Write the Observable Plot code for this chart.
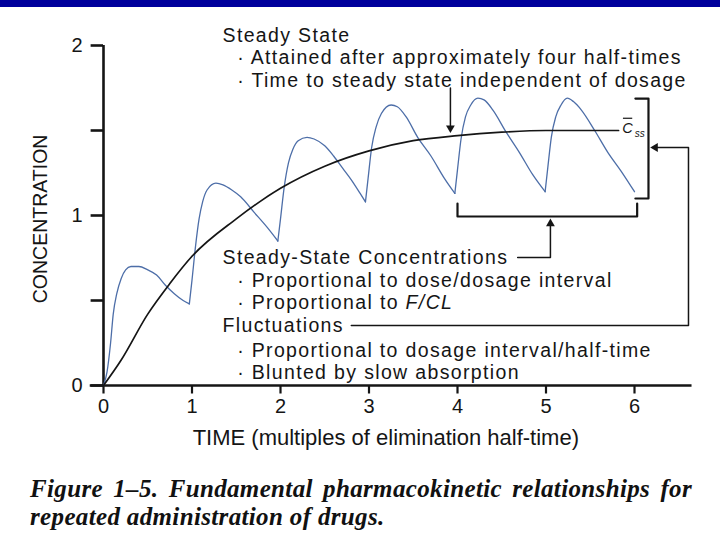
<!DOCTYPE html>
<html>
<head>
<meta charset="utf-8">
<script src="https://cdn.jsdelivr.net/npm/d3@7"></script>
<script src="https://cdn.jsdelivr.net/npm/@observablehq/plot@0.6"></script>
<style>
  html, body { margin: 0; padding: 0; background: #ffffff; width: 720px; height: 540px; overflow: hidden; }
  #bar { position: absolute; left: 0; top: 0; width: 720px; height: 7px; background: #00009c; }
  #chart { position: absolute; left: 0; top: 8px; }
  #caption { position: absolute; left: 30px; top: 475px; width: 662px;
    font-family: "Liberation Serif", "Times New Roman", serif; font-weight: bold; font-style: italic;
    font-size: 25px; line-height: 28px; letter-spacing: 0.35px; color: #111; }
  #caption .l1 { text-align: justify; text-align-last: justify; white-space: nowrap; }
</style>
</head>
<body>
<div id="bar"></div>
<div id="chart"></div>
<div id="caption">
  <div class="l1">Figure 1–5. Fundamental pharmacokinetic relationships for</div>
  <div>repeated administration of drugs.</div>
</div>
<script>
// ---- data ----
const xTicks = [0, 1, 2, 3, 4, 5, 6];
const yTicks = [0, 0.5, 1, 1.5, 2];
const yTickLabels = ["0", "", "1", "", "2"];

// average (steady-state approach) curve
const avgT = [0, 0.2, 0.5, 0.75, 1, 1.5, 2, 2.5, 3, 3.5, 4, 4.5, 5, 5.82];
const avgC = [0, 0.15, 0.42, 0.6, 0.76, 0.98, 1.16, 1.29, 1.38, 1.44, 1.47, 1.49, 1.5, 1.5];

// repeated-dose curve, one list per dosing interval
const cycle1T = [0, 0.04, 0.08, 0.11, 0.15, 0.2, 0.25, 0.31, 0.4, 0.5, 0.6, 0.7, 0.8, 0.9, 0.97];
const cycle1C = [0, 0.08, 0.25, 0.42, 0.54, 0.63, 0.68, 0.70, 0.70, 0.68, 0.65, 0.59, 0.54, 0.50, 0.48];
const cycle2T = [0.97, 1.0, 1.04, 1.08, 1.12, 1.17, 1.27, 1.35, 1.45, 1.55, 1.7, 1.85, 1.97];
const cycle2C = [0.48, 0.62, 0.82, 0.98, 1.08, 1.15, 1.19, 1.18, 1.15, 1.11, 1.02, 0.93, 0.85];
const cycle3T = [1.97, 2.0, 2.04, 2.09, 2.14, 2.2, 2.3, 2.38, 2.5, 2.6, 2.7, 2.8, 2.9, 2.96];
const cycle3C = [0.85, 0.98, 1.16, 1.31, 1.39, 1.44, 1.46, 1.45, 1.41, 1.35, 1.28, 1.21, 1.13, 1.08];
const cycle4T = [2.96, 2.99, 3.03, 3.08, 3.14, 3.25, 3.32, 3.42, 3.55, 3.7, 3.85, 3.97];
const cycle4C = [1.08, 1.22, 1.40, 1.52, 1.60, 1.65, 1.64, 1.58, 1.46, 1.35, 1.22, 1.13];
const cycle5T = [3.97, 4.0, 4.04, 4.09, 4.15, 4.23, 4.3, 4.4, 4.55, 4.7, 4.85, 4.99];
const cycle5C = [1.13, 1.27, 1.45, 1.58, 1.65, 1.69, 1.68, 1.62, 1.49, 1.37, 1.24, 1.14];
const cycle6T = [4.99, 5.02, 5.06, 5.11, 5.17, 5.24, 5.31, 5.4, 5.55, 5.7, 5.85, 6.0];
const cycle6C = [1.14, 1.28, 1.46, 1.58, 1.65, 1.69, 1.67, 1.62, 1.50, 1.37, 1.26, 1.14];

// annotation texts and anchors (data units)
const annoText = [
  "Steady State",
  "· Attained after approximately four half-times",
  "· Time to steady state independent of dosage",
  "Steady-State Concentrations",
  "· Proportional to dose/dosage interval",
  "· Proportional to F/CL",
  "Fluctuations",
  "· Proportional to dosage interval/half-time",
  "· Blunted by slow absorption"
];
const annoX = [1.345, 1.51, 1.51, 1.345, 1.51, 1.51, 1.345, 1.51, 1.51];
const annoY = [2.06, 1.93, 1.795, 0.753, 0.618, 0.488, 0.353, 0.206, 0.076];

// ---- build tables ----
const avg = avgT.map((t, i) => ({t, c: avgC[i]}));
const cycles = [[cycle1T, cycle1C], [cycle2T, cycle2C], [cycle3T, cycle3C],
                [cycle4T, cycle4C], [cycle5T, cycle5C], [cycle6T, cycle6C]];
const dose = cycles.flatMap(([T, C], k) => T.map((t, i) => ({t, c: C[i], k})));
const anno = annoText.map((s, i) => ({s, x: annoX[i], y: annoY[i]}));

const ink = "#151515";
const font = "'Liberation Sans', Arial, Helvetica, sans-serif";

// arrow heads (filled triangles)
const heads = [
  {x: 3.92, y: 1.515, r: 180},   // down arrow to steady state
  {x: 6.235, y: 1.40, r: -90},   // into fluctuation bracket
  {x: 5.05, y: 0.952, r: 0}      // up into concentration bracket
];

const plot = Plot.plot({
  width: 720, height: 452,
  marginTop: 37, marginBottom: 75, marginLeft: 103, marginRight: 86,
  x: {domain: [0, 6], axis: null},
  y: {domain: [0, 2], axis: null},
  style: {fontFamily: font, background: "transparent", color: ink, overflow: "visible"},
  marks: [
    // axes
    Plot.axisY({ticks: yTicks, tickSize: 0, tickPadding: 21, fontSize: 20,
      tickFormat: (d) => yTickLabels[yTicks.indexOf(d)], label: null}),
    Plot.axisX({ticks: xTicks, tickSize: 0, tickPadding: 13, fontSize: 20,
      tickFormat: (d) => String(d), label: null}),
    Plot.ruleY(yTicks, {x1: -0.14, x2: 0, stroke: ink, strokeWidth: 2.6}),
    Plot.ruleX(xTicks, {y1: 0, y2: -0.05, stroke: ink, strokeWidth: 2.2}),
    Plot.ruleX([0], {y1: 0, y2: 2, stroke: ink, strokeWidth: 2.6}),
    Plot.ruleY([0], {x1: -0.15, x2: 6.65, stroke: ink, strokeWidth: 2.6}),
    Plot.text(["TIME (multiples of elimination half-time)"], {x: 3.19, y: -0.31, fontSize: 22, fill: ink}),
    Plot.text(["CONCENTRATION"], {x: -0.71, y: 0.98, rotate: -90, fontSize: 19.5, fill: ink}),

    // curves
    Plot.line(dose, {x: "t", y: "c", z: "k", curve: "monotone-x", stroke: "#4d6ea8", strokeWidth: 1.3}),
    Plot.line(avg, {x: "t", y: "c", curve: "monotone-x", stroke: ink, strokeWidth: 1.7}),

    // C-bar ss label
    Plot.text(["C"], {x: 5.862, y: 1.512, fontSize: 14.5, fontStyle: "italic", textAnchor: "start", fill: ink}),
    Plot.text(["ss"], {x: 6.003, y: 1.48, fontSize: 10, fontStyle: "italic", textAnchor: "start", fill: ink}),
    Plot.ruleY([1.572], {x1: 5.875, x2: 5.98, stroke: ink, strokeWidth: 1.2}),

    // right bracket (fluctuation) and connector from "Fluctuations"
    Plot.line([[6.01, 1.688], [6.158, 1.688], [6.158, 1.10], [6.01, 1.10]], {stroke: ink, strokeWidth: 2.2}),
    Plot.line([[2.8, 0.353], [6.61, 0.353], [6.61, 1.40], [6.24, 1.40]], {stroke: ink, strokeWidth: 1.5}),

    // lower bracket (steady-state concentrations) and connector
    Plot.line([[4.0, 1.07], [4.0, 0.994], [6.03, 0.994], [6.03, 1.07]], {stroke: ink, strokeWidth: 2.2}),
    Plot.line([[4.68, 0.753], [5.05, 0.753], [5.05, 0.95]], {stroke: ink, strokeWidth: 1.5}),

    // arrow to the steady state point
    Plot.line([[3.92, 1.75], [3.92, 1.515]], {stroke: ink, strokeWidth: 1.5}),

    // filled arrow heads
    Plot.dot(heads, {x: "x", y: "y", rotate: "r", symbol: "triangle2", r: 4.2, fill: ink, stroke: "none"}),

    // annotation text
    Plot.text(anno, {x: "x", y: "y", text: "s", textAnchor: "start", fontSize: 19.5, fill: ink})
  ]
});

// italic F/CL
plot.querySelectorAll("text").forEach((t) => {
  if (t.textContent === "· Proportional to F/CL") {
    t.textContent = "· Proportional to ";
    const ts = document.createElementNS("http://www.w3.org/2000/svg", "tspan");
    ts.setAttribute("font-style", "italic");
    ts.textContent = "F/CL";
    t.appendChild(ts);
  }
});

document.getElementById("chart").appendChild(plot);

// widen the annotation text (the original's Helvetica sets wider than Arial metrics)
plot.querySelectorAll("text").forEach((t) => {
  const s = t.textContent;
  if (annoText.includes(s)) {
    const w = t.getComputedTextLength();
    if (w > 0) {
      t.setAttribute("textLength", (w + (s.length - 1) * 1.35).toFixed(1));
      t.setAttribute("lengthAdjust", "spacing");
    }
  }
});
</script>
</body>
</html>
